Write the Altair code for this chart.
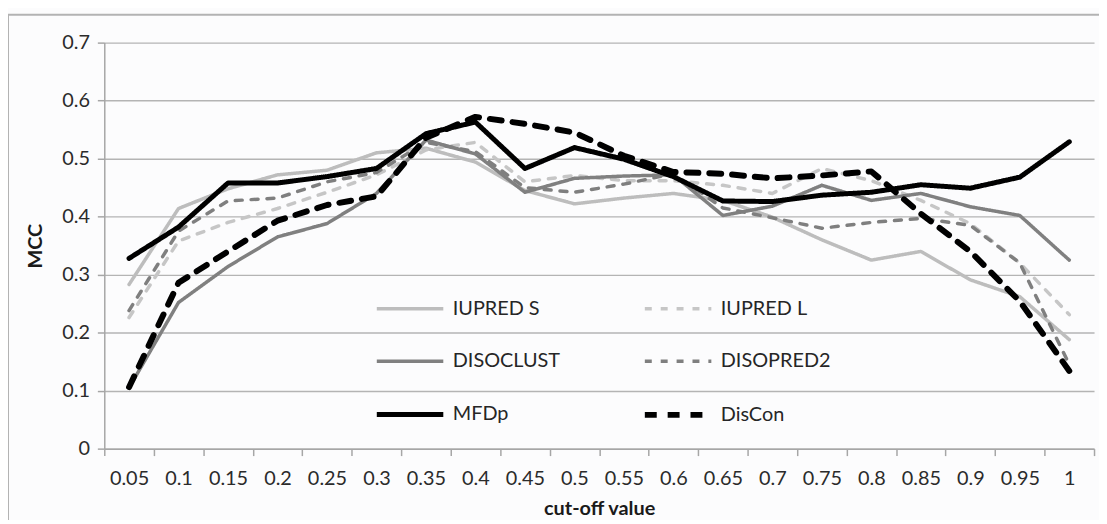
import altair as alt
import pandas as pd

cutoffs = ["0.05", "0.1", "0.15", "0.2", "0.25", "0.3", "0.35", "0.4", "0.45", "0.5",
           "0.55", "0.6", "0.65", "0.7", "0.75", "0.8", "0.85", "0.9", "0.95", "1"]
series_names = ["IUPRED S", "IUPRED L", "DISOCLUST", "DISOPRED2", "MFDp", "DisCon"]
# legend is laid out column by column: left column then right column
legend_order = ["IUPRED S", "DISOCLUST", "MFDp", "IUPRED L", "DISOPRED2", "DisCon"]

iupred_s = [0.283, 0.414, 0.448, 0.472, 0.480, 0.510, 0.518, 0.494, 0.445, 0.422,
            0.432, 0.440, 0.428, 0.399, 0.360, 0.325, 0.340, 0.291, 0.262, 0.188]
iupred_l = [0.226, 0.358, 0.390, 0.414, 0.442, 0.472, 0.515, 0.528, 0.460, 0.471,
            0.462, 0.462, 0.454, 0.440, 0.483, 0.462, 0.428, 0.388, 0.320, 0.231]
disoclust = [0.105, 0.252, 0.314, 0.365, 0.388, 0.440, 0.532, 0.508, 0.442, 0.466,
             0.470, 0.472, 0.402, 0.418, 0.454, 0.428, 0.440, 0.417, 0.402, 0.325]
disopred2 = [0.238, 0.375, 0.427, 0.432, 0.460, 0.476, 0.528, 0.512, 0.450, 0.442,
             0.456, 0.474, 0.415, 0.398, 0.380, 0.390, 0.397, 0.385, 0.320, 0.145]
mfdp = [0.328, 0.382, 0.458, 0.458, 0.469, 0.483, 0.543, 0.563, 0.483, 0.519,
        0.499, 0.469, 0.427, 0.426, 0.437, 0.442, 0.455, 0.449, 0.468, 0.529]
discon = [0.106, 0.286, 0.340, 0.393, 0.420, 0.435, 0.536, 0.572, 0.560, 0.545,
          0.505, 0.477, 0.474, 0.466, 0.471, 0.478, 0.405, 0.340, 0.254, 0.134]

y_ticks = [0, 0.1, 0.2, 0.3, 0.4, 0.5, 0.6, 0.7]

rows = []
for name, vals in zip(series_names, [iupred_s, iupred_l, disoclust, disopred2, mfdp, discon]):
    for c, v in zip(cutoffs, vals):
        rows.append({"cutoff": c, "series": name, "mcc": v})
df = pd.DataFrame(rows)

style = {
    "IUPRED S": ("#bdbdbd", [1, 0], 3.5),
    "IUPRED L": ("#c6c6c6", [7, 9], 3.5),
    "DISOCLUST": ("#808080", [1, 0], 3.5),
    "DISOPRED2": ("#7f7f7f", [7, 9], 3.5),
    "MFDp": ("#000000", [1, 0], 5),
    "DisCon": ("#000000", [12, 11], 6),
}
colors = [style[s][0] for s in legend_order]
dashes = [style[s][1] for s in legend_order]
widths = [style[s][2] for s in legend_order]

FONT = "Lato"
W, H = 997, 409

legend = alt.Legend(
    title=None, orient="none", legendX=280, legendY=241, columns=2,
    symbolType="M-1.34,0H1.34", symbolSize=2500, symbolStrokeWidth=3,
    labelFont=FONT, labelFontSize=20, labelColor="#262626",
    labelOffset=15, columnPadding=72, rowPadding=16, padding=0,
)

lines = alt.Chart(df).mark_line(strokeCap="round", strokeJoin="round").encode(
    x=alt.X("cutoff:N", sort=cutoffs, bandPosition=0.5,
            scale=alt.Scale(type="band", paddingInner=0, paddingOuter=0),
            axis=alt.Axis(title="cut-off value", labelAngle=0, tickBand="extent",
                          labelPadding=13, titlePadding=10)),
    y=alt.Y("mcc:Q", scale=alt.Scale(domain=[0, 0.7], nice=False, zero=True),
            axis=alt.Axis(title="MCC", values=y_ticks, format=".1~f",
                          labelPadding=8, titlePadding=16, grid=True)),
    color=alt.Color("series:N", sort=legend_order,
                    scale=alt.Scale(domain=legend_order, range=colors), legend=legend),
    strokeDash=alt.StrokeDash("series:N", sort=legend_order,
                              scale=alt.Scale(domain=legend_order, range=dashes), legend=legend),
    strokeWidth=alt.StrokeWidth("series:O", sort=legend_order,
                                scale=alt.Scale(type="ordinal", domain=legend_order, range=widths),
                                legend=legend),
)

frame_data = alt.Data(values=[{"k": 1}])
top_rule = alt.Chart(frame_data).mark_rule(color="#b3b3b3", strokeWidth=2).encode(
    x=alt.value(-97), x2=alt.value(W + 10), y=alt.value(-28))
left_rule = alt.Chart(frame_data).mark_rule(color="#b3b3b3", strokeWidth=2).encode(
    x=alt.value(-97), y=alt.value(-28), y2=alt.value(H + 80))

chart = alt.layer(lines, top_rule, left_rule).properties(
    width=W, height=H,
    autosize=alt.AutoSizeParams(type="none"),
    padding={"left": 97, "top": 33, "right": 5, "bottom": 70},
    background="#fcfcfd",
).configure_view(stroke=None).configure_axis(
    labelFont=FONT, labelFontSize=20, labelColor="#2b2b2b",
    titleFont=FONT, titleFontSize=20, titleFontWeight="bold", titleColor="#1a1a1a",
    domainColor="#a6a6a6", domainWidth=1.5,
    tickColor="#a6a6a6", tickWidth=1.5, tickSize=7,
    gridColor="#b4b4b4", gridWidth=1.4,
).configure_axisX(grid=False)

chart.save("out.html", embed_options={"renderer": "svg", "actions": False})
